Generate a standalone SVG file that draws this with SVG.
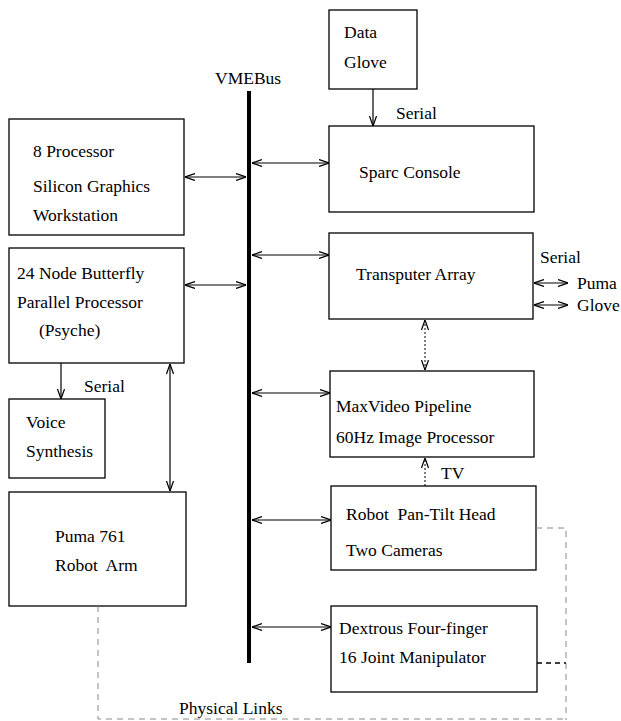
<svg xmlns="http://www.w3.org/2000/svg" width="621" height="721" viewBox="0 0 621 721">
<style>
  .box { fill: #fff; stroke: #000; stroke-width: 1.3; }
  text { font-family: 'Liberation Serif', 'DejaVu Serif', 'Times New Roman', serif; font-size: 17.5px; fill: #000; }
  .c { stroke: #000; stroke-width: 1.2; fill: none; }
  .dot { stroke: #000; stroke-width: 1; fill: none; stroke-dasharray: 2,2; }
  .dash { stroke: #888; stroke-width: 1; fill: none; stroke-dasharray: 6,5; }
  .dashb { stroke: #000; stroke-width: 1.5; fill: none; stroke-dasharray: 5,4; }
</style>
<defs>
  <marker id="ah" viewBox="0 0 10 8" refX="10" refY="4" markerWidth="10" markerHeight="8" markerUnits="userSpaceOnUse" orient="auto-start-reverse">
    <path d="M0,0.5 L10,4 L0,7.5" fill="none" stroke="#000" stroke-width="1.2"/>
  </marker>
</defs>
<rect width="621" height="721" fill="#fff"/>

<g id="bus">
  <line x1="249" y1="91" x2="249" y2="663" stroke="#000" stroke-width="4"/>
  <text x="215" y="84">VMEBus</text>
</g>

<g id="dataglove">
  <rect class="box" x="329" y="10" width="88" height="79"/>
  <text x="344" y="38">Data</text>
  <text x="344" y="68">Glove</text>
</g>

<g id="sgi">
  <rect class="box" x="9" y="119" width="175" height="116"/>
  <text x="33" y="157">8 Processor</text>
  <text x="33" y="192">Silicon Graphics</text>
  <text x="33" y="221">Workstation</text>
</g>

<g id="sparc">
  <rect class="box" x="329" y="126" width="205" height="86"/>
  <text x="359" y="178">Sparc Console</text>
</g>

<g id="butterfly">
  <rect class="box" x="9" y="248" width="175" height="115"/>
  <text x="17" y="279">24 Node Butterfly</text>
  <text x="17" y="308">Parallel Processor</text>
  <text x="39" y="336">(Psyche)</text>
</g>

<g id="transputer">
  <rect class="box" x="329" y="233" width="204" height="86"/>
  <text x="356" y="280">Transputer Array</text>
</g>

<g id="voice">
  <rect class="box" x="9" y="399" width="96" height="79"/>
  <text x="26" y="428">Voice</text>
  <text x="26" y="457">Synthesis</text>
</g>

<g id="maxvideo">
  <rect class="box" x="330" y="371" width="204" height="86"/>
  <text x="336" y="412">MaxVideo Pipeline</text>
  <text x="336" y="443">60Hz Image Processor</text>
</g>

<g id="puma">
  <rect class="box" x="9" y="492" width="177" height="114"/>
  <text x="55" y="542" xml:space="preserve">Puma 761</text>
  <text x="55" y="571" xml:space="preserve">Robot  Arm</text>
</g>

<g id="pantilt">
  <rect class="box" x="331" y="486" width="205" height="84"/>
  <text x="346" y="520" xml:space="preserve">Robot  Pan-Tilt Head</text>
  <text x="346" y="556">Two Cameras</text>
</g>

<g id="dextrous">
  <rect class="box" x="331" y="606" width="206" height="86"/>
  <text x="339" y="634">Dextrous Four-finger</text>
  <text x="339" y="663">16 Joint Manipulator</text>
</g>

<g id="connectors">
  <line class="c" x1="373" y1="89" x2="373" y2="126" marker-end="url(#ah)"/>
  <text x="396" y="119">Serial</text>

  <line class="c" x1="185" y1="177" x2="246" y2="177" marker-start="url(#ah)" marker-end="url(#ah)"/>
  <line class="c" x1="252" y1="163" x2="329" y2="163" marker-start="url(#ah)" marker-end="url(#ah)"/>
  <line class="c" x1="185" y1="285" x2="246" y2="285" marker-start="url(#ah)" marker-end="url(#ah)"/>
  <line class="c" x1="252" y1="255" x2="329" y2="255" marker-start="url(#ah)" marker-end="url(#ah)"/>
  <line class="c" x1="252" y1="393" x2="330" y2="393" marker-start="url(#ah)" marker-end="url(#ah)"/>
  <line class="c" x1="252" y1="520" x2="331" y2="520" marker-start="url(#ah)" marker-end="url(#ah)"/>
  <line class="c" x1="252" y1="627" x2="331" y2="627" marker-start="url(#ah)" marker-end="url(#ah)"/>

  <text x="540" y="263">Serial</text>
  <line class="c" x1="534" y1="283" x2="568" y2="283" marker-start="url(#ah)" marker-end="url(#ah)"/>
  <text x="577" y="289">Puma</text>
  <line class="c" x1="534" y1="305" x2="568" y2="305" marker-start="url(#ah)" marker-end="url(#ah)"/>
  <text x="577" y="311">Glove</text>

  <line class="dot" x1="425" y1="320" x2="425" y2="370" marker-start="url(#ah)" marker-end="url(#ah)"/>
  <line class="dot" x1="425" y1="486" x2="425" y2="458" marker-end="url(#ah)"/>
  <text x="441" y="479">TV</text>

  <line class="c" x1="61" y1="363" x2="61" y2="399" marker-end="url(#ah)"/>
  <text x="84" y="392">Serial</text>
  <line class="c" x1="170" y1="364" x2="170" y2="491" marker-start="url(#ah)" marker-end="url(#ah)"/>

  <polyline class="dash" points="536,528 566,528 566,720"/>
  <polyline class="dashb" points="537,663 566,663"/>
  <polyline class="dash" points="98,606 98,719 566,719"/>
  <text x="179" y="714">Physical Links</text>
</g>
</svg>
